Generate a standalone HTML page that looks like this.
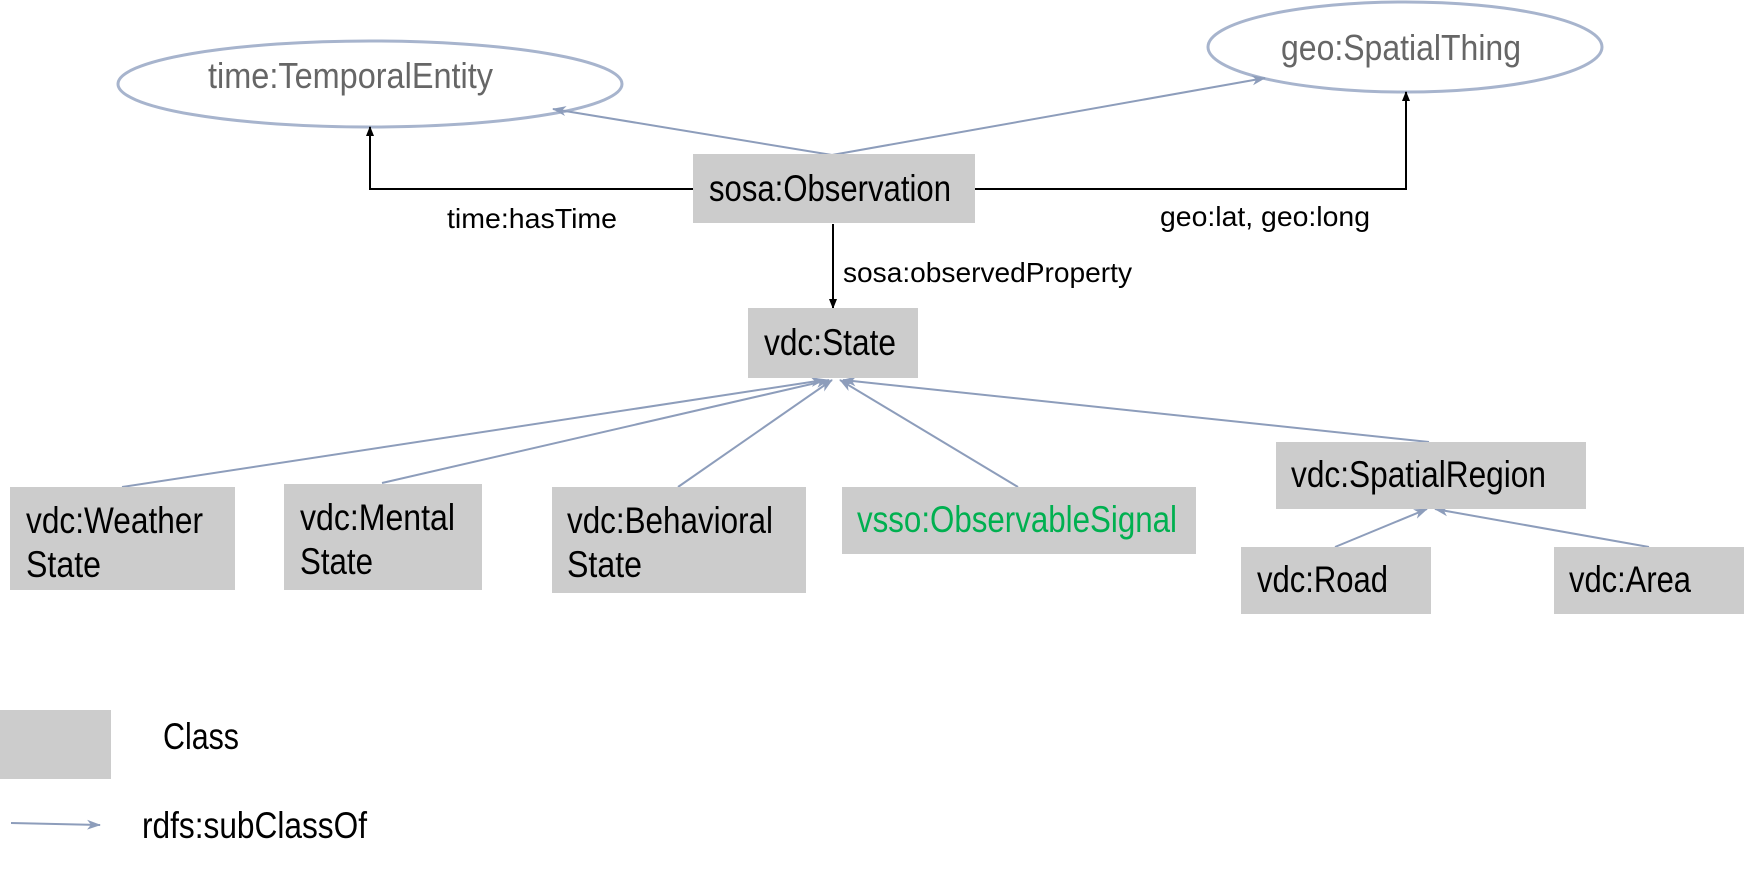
<!DOCTYPE html>
<html><head><meta charset="utf-8"><style>
html,body{margin:0;padding:0;background:#fff;}
svg{display:block;}
text{font-family:"Liberation Sans Narrow","Liberation Sans",sans-serif;}
</style></head><body>
<svg width="1744" height="870" viewBox="0 0 1744 870" xmlns="http://www.w3.org/2000/svg">
<defs>
<marker id="ab" markerWidth="10" markerHeight="10" refX="9" refY="5" orient="auto" markerUnits="userSpaceOnUse"><path d="M0,1 L10,5 L0,9 Z" fill="#000"/></marker>
<marker id="ag" markerWidth="14" markerHeight="12" refX="13" refY="6" orient="auto" markerUnits="userSpaceOnUse"><path d="M0,1 L14,6 L0,11 L4,6 Z" fill="#8d9dbb"/></marker>
</defs>
<ellipse cx="370" cy="84" rx="252" ry="43" fill="#fff" stroke="#a7b4cd" stroke-width="3"/>
<text x="208" y="88" font-size="36" fill="#666" textLength="285" lengthAdjust="spacingAndGlyphs">time:TemporalEntity</text>
<ellipse cx="1405" cy="47" rx="197" ry="45" fill="#fff" stroke="#a7b4cd" stroke-width="3"/>
<text x="1281" y="60" font-size="36" fill="#666" textLength="240" lengthAdjust="spacingAndGlyphs">geo:SpatialThing</text>

<g stroke="#8d9dbb" stroke-width="2" fill="none" marker-end="url(#ag)">
<line x1="832" y1="155" x2="553" y2="109"/>
<line x1="832" y1="155" x2="1265" y2="78"/>
<line x1="122" y1="487" x2="824" y2="380"/>
<line x1="382" y1="483" x2="829" y2="380"/>
<line x1="678" y1="487" x2="832" y2="380"/>
<line x1="1018" y1="487" x2="840" y2="380"/>
<line x1="1429" y1="442" x2="843" y2="380"/>
<line x1="1335" y1="547" x2="1427" y2="509"/>
<line x1="1649" y1="547" x2="1435" y2="509"/>
<line x1="11" y1="823" x2="100" y2="825"/>
</g>
<g stroke="#000" stroke-width="2" fill="none" marker-end="url(#ab)">
<polyline points="693,189 370,189 370,127"/>
<polyline points="975,189 1406,189 1406,92"/>
<line x1="833" y1="224" x2="833" y2="308"/>
</g>

<g fill="#cccccc">
<rect x="693" y="154" width="282" height="69"/>
<rect x="748" y="308" width="170" height="70"/>
<rect x="10" y="487" width="225" height="103"/>
<rect x="284" y="484" width="198" height="106"/>
<rect x="552" y="487" width="254" height="106"/>
<rect x="842" y="487" width="354" height="67"/>
<rect x="1276" y="442" width="310" height="67"/>
<rect x="1241" y="547" width="190" height="67"/>
<rect x="1554" y="547" width="190" height="67"/>
<rect x="0" y="710" width="111" height="69"/>
</g>

<g font-size="37" fill="#000">
<text x="709" y="201" textLength="242" lengthAdjust="spacingAndGlyphs">sosa:Observation</text>
<text x="764" y="355" textLength="132" lengthAdjust="spacingAndGlyphs">vdc:State</text>
<text x="26" y="533" textLength="177" lengthAdjust="spacingAndGlyphs">vdc:Weather</text>
<text x="26" y="577" textLength="75" lengthAdjust="spacingAndGlyphs">State</text>
<text x="300" y="530" textLength="155" lengthAdjust="spacingAndGlyphs">vdc:Mental</text>
<text x="300" y="574" textLength="73" lengthAdjust="spacingAndGlyphs">State</text>
<text x="567" y="533" textLength="206" lengthAdjust="spacingAndGlyphs">vdc:Behavioral</text>
<text x="567" y="577" textLength="75" lengthAdjust="spacingAndGlyphs">State</text>
<text x="857" y="532" fill="#00b050" textLength="320" lengthAdjust="spacingAndGlyphs">vsso:ObservableSignal</text>
<text x="1291" y="487" textLength="255" lengthAdjust="spacingAndGlyphs">vdc:SpatialRegion</text>
<text x="1257" y="592" textLength="131" lengthAdjust="spacingAndGlyphs">vdc:Road</text>
<text x="1569" y="592" textLength="122" lengthAdjust="spacingAndGlyphs">vdc:Area</text>
<text x="163" y="749" textLength="76" lengthAdjust="spacingAndGlyphs">Class</text>
<text x="142" y="838" textLength="225" lengthAdjust="spacingAndGlyphs">rdfs:subClassOf</text>
</g>
<g font-size="28" fill="#000">
<text x="447" y="228" textLength="170" lengthAdjust="spacingAndGlyphs">time:hasTime</text>
<text x="1160" y="226" textLength="210" lengthAdjust="spacingAndGlyphs">geo:lat, geo:long</text>
<text x="843" y="282" textLength="289" lengthAdjust="spacingAndGlyphs">sosa:observedProperty</text>
</g>
</svg>
</body></html>
